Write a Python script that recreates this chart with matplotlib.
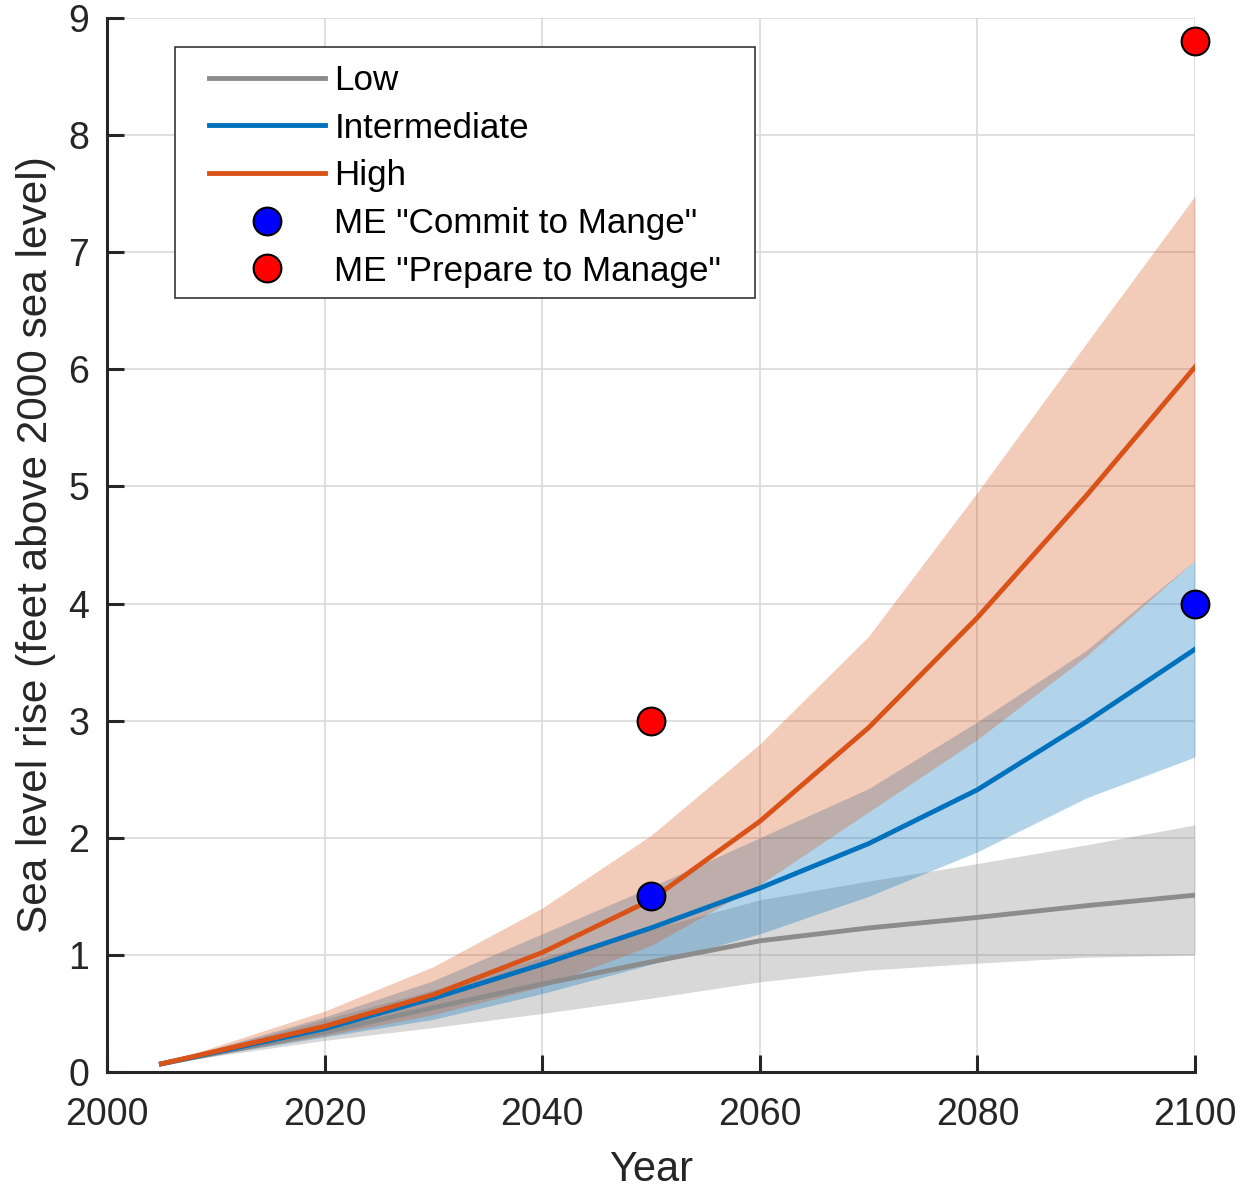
import numpy as np
import matplotlib.pyplot as plt
from matplotlib.patches import Rectangle

plt.rcParams['font.family'] = ['Liberation Sans', 'DejaVu Sans']

# Años de los escenarios de subida del nivel del mar
anios = [2005, 2020, 2030, 2040, 2050, 2060, 2070, 2080, 2090, 2100]

# Escenario bajo (línea central y rango)
bajo = [0.07, 0.34, 0.55, 0.75, 0.94, 1.12, 1.23, 1.32, 1.42, 1.51]
bajo_min = [0.07, 0.27, 0.38, 0.50, 0.63, 0.77, 0.87, 0.93, 0.98, 1.00]
bajo_max = [0.07, 0.45, 0.70, 0.98, 1.22, 1.47, 1.63, 1.78, 1.94, 2.11]

# Escenario intermedio
inter = [0.07, 0.37, 0.63, 0.92, 1.23, 1.57, 1.95, 2.41, 2.99, 3.61]
inter_min = [0.07, 0.30, 0.45, 0.67, 0.92, 1.18, 1.50, 1.88, 2.34, 2.69]
inter_max = [0.07, 0.47, 0.78, 1.18, 1.58, 2.00, 2.42, 2.99, 3.60, 4.37]

# Escenario alto
alto = [0.07, 0.39, 0.66, 1.02, 1.47, 2.14, 2.94, 3.88, 4.92, 6.02]
alto_min = [0.07, 0.31, 0.49, 0.73, 1.08, 1.60, 2.22, 2.84, 3.55, 4.37]
alto_max = [0.07, 0.52, 0.90, 1.40, 2.02, 2.80, 3.72, 4.95, 6.22, 7.48]

# Valores de Maine
anios_me = [2050, 2100]
commit = [1.5, 4.0]
prepare = [3.0, 8.8]

c_bajo = '#8c8c8c'
c_inter = '#0072BD'
c_alto = '#D95319'
c_texto = '#262626'

fig = plt.figure(figsize=(12.43, 11.89), dpi=100)
ax = fig.add_axes([0.0861, 0.0984, 0.8753, 0.8865])

# Bandas y líneas (cada banda tapa la línea anterior)
ax.fill_between(anios, bajo_min, bajo_max, color=(0.5, 0.5, 0.5), alpha=0.3, linewidth=0)
ax.plot(anios, bajo, color=c_bajo, lw=3.5, label='Low')
ax.fill_between(anios, inter_min, inter_max, color=c_inter, alpha=0.3, linewidth=0)
ax.plot(anios, inter, color=c_inter, lw=3.5, label='Intermediate')
ax.fill_between(anios, alto_min, alto_max, color=c_alto, alpha=0.3, linewidth=0)
ax.plot(anios, alto, color=c_alto, lw=3.5, label='High')

ax.plot(anios_me, commit, 'o', ms=20, mfc='blue', mec='black', mew=1.5,
        label='ME "Commit to Mange"', clip_on=False, zorder=5)
ax.plot(anios_me, prepare, 'o', ms=20, mfc='red', mec='black', mew=1.5,
        label='ME "Prepare to Manage"', clip_on=False, zorder=5)

ax.set_xlim(2000, 2100)
ax.set_ylim(0, 9)
ax.set_xticks(range(2000, 2101, 20))
ax.set_yticks(range(0, 10))

ax.grid(True, color='#d9d9d9', lw=1.2)
ax.set_axisbelow(True)
for lado in ['top', 'right']:
    ax.spines[lado].set_visible(False)
for lado in ['left', 'bottom']:
    ax.spines[lado].set_color(c_texto)
    ax.spines[lado].set_linewidth(2.2)

ax.tick_params(direction='in', length=12, width=2.2, colors=c_texto,
               labelsize=27)
ax.tick_params(axis='x', pad=18)
ax.tick_params(axis='y', pad=13)

ax.set_xlabel('Year', fontsize=30, color=c_texto, labelpad=12)
ax.set_ylabel('Sea level rise (feet above 2000 sea level)', fontsize=30.5,
              color=c_texto, labelpad=9)

# Leyenda sin marco propio; el recuadro se dibuja aparte con más margen lateral
leg = ax.legend(loc='upper left', bbox_to_anchor=(0.09375, 0.9565),
                borderaxespad=0, borderpad=0, fontsize=25.2, frameon=False,
                handlelength=3.3, handletextpad=0.28, labelspacing=0.42)
marco = Rectangle((0.0625, 0.7343), 0.5331, 0.2382, transform=ax.transAxes,
                  facecolor='white', edgecolor=c_texto, lw=1.1, zorder=4.9)
ax.add_patch(marco)
leg.set_zorder(6)

fig.savefig('out.png', dpi=100)
